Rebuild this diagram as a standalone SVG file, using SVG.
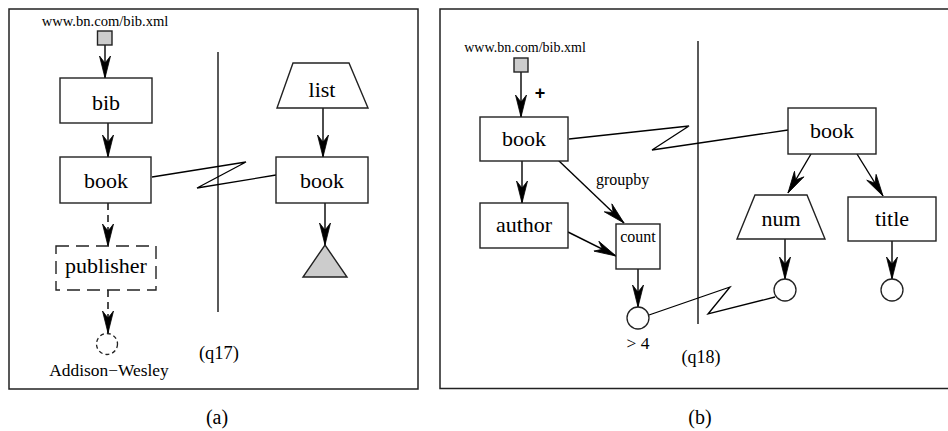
<svg xmlns="http://www.w3.org/2000/svg" width="948" height="431" viewBox="0 0 948 431">
  <defs>
    <marker id="arrow" viewBox="-23 -6 24 12" refX="0" refY="0" markerWidth="24" markerHeight="12" markerUnits="userSpaceOnUse" orient="auto">
      <path d="M0,0 L-22,-5.5 L-15,0 L-22,5.5 Z" fill="#000" stroke="#000" stroke-width="0.8" stroke-linejoin="miter"/>
    </marker>
    <style>
      .frame { fill: none; stroke: #222; stroke-width: 1.5; }
      .box { fill: #fff; stroke: #222; stroke-width: 1.4; }
      .dashbox { fill: #fff; stroke: #222; stroke-width: 1.4; stroke-dasharray: 13 7; }
      .gray { fill: #cccccc; stroke: #222; stroke-width: 1.4; }
      .edge { fill: none; stroke: #000; stroke-width: 1.4; marker-end: url(#arrow); }
      .dashedge { fill: none; stroke: #000; stroke-width: 1.4; stroke-dasharray: 7 5; marker-end: url(#arrow); }
      .plain { fill: none; stroke: #000; stroke-width: 1.3; }
      .label { font-size: 22px; text-anchor: middle; }
    </style>
  </defs>

  <g font-family="'Liberation Serif', 'Times New Roman', serif" fill="#000">
  <!-- (a) query q17 -->
  <rect class="frame" x="9" y="9" width="409" height="380"/>
  <line class="plain" x1="218" y1="52" x2="218" y2="312"/>

  <g id="a-connectors">
    <line class="edge" x1="105" y1="45" x2="105" y2="78"/>
    <line class="edge" x1="108" y1="123" x2="108" y2="157"/>
    <line class="dashedge" x1="108" y1="203" x2="108" y2="246"/>
    <line class="dashedge" x1="108" y1="290" x2="108" y2="333"/>
    <line class="edge" x1="323" y1="108" x2="323" y2="157"/>
    <line class="edge" x1="325" y1="203" x2="325" y2="245"/>
    <polyline class="plain" points="152,177 246,162 197,188 276,175"/>
  </g>

  <g id="a-source">
    <text x="105" y="26" font-size="14.6" text-anchor="middle">www.bn.com/bib.xml</text>
    <rect class="gray" x="97.5" y="31" width="14.5" height="14"/>
  </g>
  <g id="a-bib">
    <rect class="box" x="60" y="78" width="92" height="45"/>
    <text class="label" x="106" y="110">bib</text>
  </g>
  <g id="a-book-left">
    <rect class="box" x="60" y="157" width="91" height="46"/>
    <text class="label" x="106" y="188">book</text>
  </g>
  <g id="a-publisher">
    <rect class="dashbox" x="56" y="246" width="100" height="44"/>
    <text class="label" x="106" y="273">publisher</text>
  </g>
  <g id="a-value">
    <circle cx="107" cy="344" r="10.5" fill="#fff" stroke="#222" stroke-width="1.3" stroke-dasharray="4 3"/>
    <text x="109" y="376" font-size="17.4" text-anchor="middle">Addison−Wesley</text>
  </g>
  <g id="a-list">
    <polygon class="box" points="293,63 349,63 368,108 277,108"/>
    <text class="label" x="322" y="97">list</text>
  </g>
  <g id="a-book-right">
    <rect class="box" x="276" y="157" width="92" height="46"/>
    <text class="label" x="322" y="188">book</text>
  </g>
  <g id="a-triangle">
    <polygon class="gray" points="325,245 347,277 303,277"/>
  </g>
  <text x="219" y="359" font-size="18.5" text-anchor="middle">(q17)</text>
  <text x="217" y="424" font-size="20" text-anchor="middle">(a)</text>

  <!-- (b) query q18 -->
  <polyline class="frame" points="960,9 440,9 440,388.5 960,388.5"/>
  <line class="plain" x1="698" y1="41" x2="698" y2="324"/>

  <g id="b-connectors">
    <line class="edge" x1="521" y1="72" x2="521" y2="117"/>
    <line class="edge" x1="522" y1="161" x2="522" y2="203"/>
    <line class="edge" x1="558" y1="160" x2="624" y2="223"/>
    <line class="edge" x1="568" y1="232" x2="616" y2="256"/>
    <line class="edge" x1="638" y1="269" x2="638" y2="307"/>
    <line class="edge" x1="811" y1="154" x2="788" y2="193"/>
    <line class="edge" x1="857" y1="154" x2="883" y2="196"/>
    <line class="edge" x1="785" y1="239" x2="785" y2="279"/>
    <line class="edge" x1="892" y1="241" x2="892" y2="279"/>
    <polyline class="plain" points="569,139 689,126 652,150 788,130"/>
    <polyline class="plain" points="649,315 730,287 708,314 775,297"/>
  </g>

  <g id="b-source">
    <text x="525" y="52" font-size="14" text-anchor="middle">www.bn.com/bib.xml</text>
    <rect class="gray" x="514" y="58" width="14" height="14"/>
    <text x="540" y="99" font-family="'Liberation Sans', Arial, sans-serif" font-size="18" font-weight="bold" text-anchor="middle">+</text>
  </g>
  <g id="b-book-left">
    <rect class="box" x="480" y="117" width="88" height="44"/>
    <text class="label" x="524" y="146">book</text>
  </g>
  <g id="b-author">
    <rect class="box" x="480" y="203" width="88" height="45"/>
    <text class="label" x="524" y="232">author</text>
  </g>
  <text x="596" y="185" font-size="16">groupby</text>
  <g id="b-count">
    <rect class="box" x="616" y="224" width="44" height="45"/>
    <text x="638" y="242" font-size="16" text-anchor="middle">count</text>
  </g>
  <g id="b-count-value">
    <circle cx="638" cy="318" r="11" fill="#fff" stroke="#222" stroke-width="1.3"/>
    <text x="638" y="349" font-size="17.5" text-anchor="middle">&gt; 4</text>
  </g>
  <g id="b-book-right">
    <rect class="box" x="788" y="108" width="88" height="46"/>
    <text class="label" x="832" y="138">book</text>
  </g>
  <g id="b-num">
    <polygon class="box" points="755,195 807,195 825,239 737,239"/>
    <text class="label" x="781" y="226">num</text>
  </g>
  <g id="b-num-value">
    <circle cx="785" cy="290" r="11" fill="#fff" stroke="#222" stroke-width="1.3"/>
  </g>
  <g id="b-title">
    <rect class="box" x="848" y="197" width="88" height="44"/>
    <text class="label" x="892" y="226">title</text>
  </g>
  <g id="b-title-value">
    <circle cx="892" cy="290" r="11" fill="#fff" stroke="#222" stroke-width="1.3"/>
  </g>
  <text x="701" y="363" font-size="18" text-anchor="middle">(q18)</text>
  <text x="700" y="424" font-size="20" text-anchor="middle">(b)</text>
  </g>
</svg>
